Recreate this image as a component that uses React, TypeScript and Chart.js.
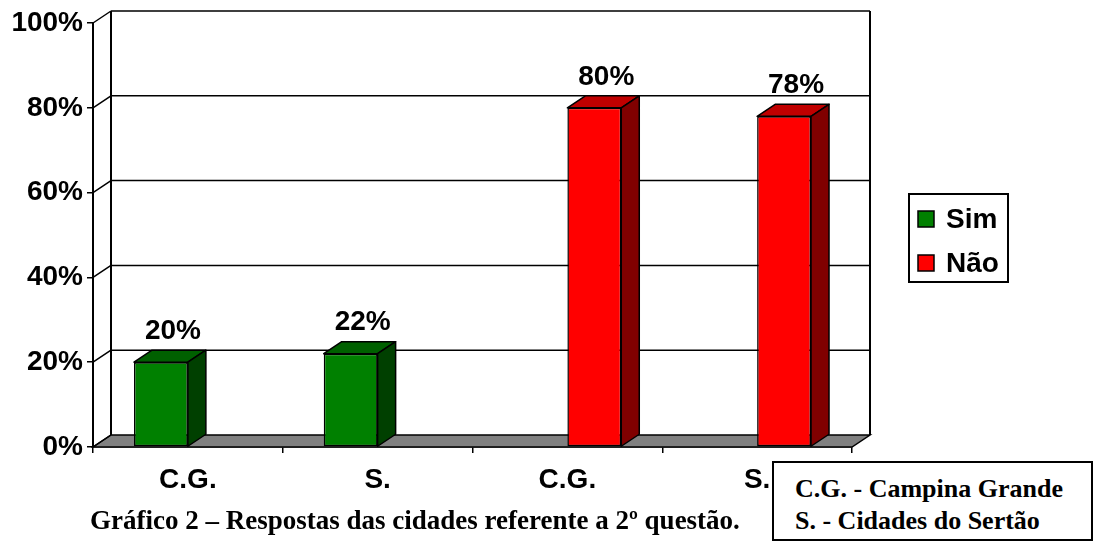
import React, { useEffect, useRef } from "react";
import { Chart, registerables } from "chart.js";

Chart.register(...registerables);

// Categories and answer shares (%)
const categories = ["C.G.", "S.", "C.G.", "S."];
const seriesNames = ["Sim", "Não"];
const simValues: (number | null)[] = [20, 22, null, null];
const naoValues: (number | null)[] = [null, null, 80, 78];
const yTickValues = [0, 20, 40, 60, 80, 100];

// Styling of the pseudo-3D look
const DEPTH_X = 18;
const DEPTH_Y = -12;
const SANS = "'Liberation Sans', Arial, Helvetica, sans-serif";
const SERIF = "'Liberation Serif', 'Times New Roman', Times, serif";
const frontColors = ["#008000", "#FF0000"];
const topColors = ["#006000", "#C00000"];
const sideColors = ["#004000", "#800000"];

// Back wall, floor and the diagonal links from the front axis
const wallPlugin = {
  id: "wall3d",
  beforeDatasetsDraw(chart: any) {
    const { ctx, chartArea } = chart;
    const { left, right, top, bottom } = chartArea;
    const y = chart.scales.y;
    ctx.save();
    ctx.strokeStyle = "#000";
    ctx.lineWidth = 1.5;

    // floor
    ctx.beginPath();
    ctx.moveTo(left, bottom);
    ctx.lineTo(right, bottom);
    ctx.lineTo(right + DEPTH_X, bottom + DEPTH_Y);
    ctx.lineTo(left + DEPTH_X, bottom + DEPTH_Y);
    ctx.closePath();
    ctx.fillStyle = "#808080";
    ctx.fill();
    ctx.stroke();

    // gridlines on the back wall
    yTickValues.forEach((v) => {
      const py = y.getPixelForValue(v);
      ctx.beginPath();
      if (v > 0) {
        ctx.moveTo(left + DEPTH_X, py + DEPTH_Y);
        ctx.lineTo(right + DEPTH_X, py + DEPTH_Y);
      }
      ctx.moveTo(left, py);
      ctx.lineTo(left + DEPTH_X, py + DEPTH_Y);
      ctx.stroke();
    });

    // wall edges
    ctx.lineWidth = 2;
    ctx.beginPath();
    ctx.moveTo(left + DEPTH_X, top + DEPTH_Y);
    ctx.lineTo(left + DEPTH_X, bottom + DEPTH_Y);
    ctx.moveTo(right + DEPTH_X, top + DEPTH_Y);
    ctx.lineTo(right + DEPTH_X, bottom + DEPTH_Y);
    ctx.stroke();
    ctx.restore();
  },
};

// Top and side faces of each column plus the value labels
const barFacesPlugin = {
  id: "barFaces3d",
  afterDatasetsDraw(chart: any) {
    const { ctx } = chart;
    ctx.save();
    ctx.strokeStyle = "#000";
    ctx.lineWidth = 1.5;
    ctx.lineJoin = "round";
    chart.data.datasets.forEach((ds: any, i: number) => {
      const meta = chart.getDatasetMeta(i);
      meta.data.forEach((bar: any, j: number) => {
        const v = ds.data[j];
        if (v == null) return;
        const { x, y, base, width } = bar.getProps(["x", "y", "base", "width"], true);
        const l = x - width / 2;
        const r = x + width / 2;

        ctx.beginPath();
        ctx.moveTo(l, y);
        ctx.lineTo(r, y);
        ctx.lineTo(r + DEPTH_X, y + DEPTH_Y);
        ctx.lineTo(l + DEPTH_X, y + DEPTH_Y);
        ctx.closePath();
        ctx.fillStyle = topColors[i];
        ctx.fill();
        ctx.stroke();

        ctx.beginPath();
        ctx.moveTo(r, y);
        ctx.lineTo(r + DEPTH_X, y + DEPTH_Y);
        ctx.lineTo(r + DEPTH_X, base + DEPTH_Y);
        ctx.lineTo(r, base);
        ctx.closePath();
        ctx.fillStyle = sideColors[i];
        ctx.fill();
        ctx.stroke();

        ctx.fillStyle = "#000";
        ctx.font = `bold 28px ${SANS}`;
        ctx.textAlign = "center";
        ctx.textBaseline = "middle";
        ctx.fillText(`${v}%`, x + 12, y + DEPTH_Y - 19);
      });
    });
    ctx.restore();
  },
};

// Boxed legend at the right of the plot
const boxLegendPlugin = {
  id: "boxLegend",
  afterDraw(chart: any) {
    const { ctx } = chart;
    const bx = 909;
    const by = 194;
    const bw = 99;
    const bh = 88;
    ctx.save();
    ctx.fillStyle = "#fff";
    ctx.fillRect(bx, by, bw, bh);
    ctx.strokeStyle = "#000";
    ctx.lineWidth = 2;
    ctx.strokeRect(bx, by, bw, bh);
    seriesNames.forEach((name, i) => {
      const cy = by + 25 + i * 44;
      ctx.fillStyle = frontColors[i];
      ctx.fillRect(bx + 9, cy - 8, 16, 16);
      ctx.lineWidth = 1.5;
      ctx.strokeRect(bx + 9, cy - 8, 16, 16);
      ctx.fillStyle = "#000";
      ctx.font = `bold 28px ${SANS}`;
      ctx.textAlign = "left";
      ctx.textBaseline = "middle";
      ctx.fillText(name, bx + 37, cy + 1);
    });
    ctx.restore();
  },
};

export default function App() {
  const canvasRef = useRef<HTMLCanvasElement | null>(null);

  useEffect(() => {
    document.body.style.margin = "0";
    const canvas = canvasRef.current;
    if (!canvas) return;
    const tickFont = { family: SANS, size: 28, weight: "bold" as const };
    const chart = new Chart(canvas, {
      type: "bar",
      data: {
        labels: categories,
        datasets: [
          {
            label: seriesNames[0],
            data: simValues,
            backgroundColor: frontColors[0],
            borderColor: "#000",
            borderWidth: 1.5,
            borderSkipped: false,
            categoryPercentage: 0.568,
            barPercentage: 1,
          },
          {
            label: seriesNames[1],
            data: naoValues,
            backgroundColor: frontColors[1],
            borderColor: "#000",
            borderWidth: 1.5,
            borderSkipped: false,
            categoryPercentage: 0.568,
            barPercentage: 1,
          },
        ],
      },
      options: {
        animation: false,
        responsive: true,
        maintainAspectRatio: false,
        layout: { padding: { top: 23, right: 243, left: 0, bottom: 0 } },
        plugins: {
          legend: { display: false },
          tooltip: { enabled: false },
        },
        scales: {
          x: {
            grid: {
              display: true,
              drawOnChartArea: false,
              drawTicks: true,
              tickLength: 6,
              offset: true,
              color: "#000",
              lineWidth: 1.5,
            },
            border: { display: true, color: "#000", width: 1.5 },
            ticks: { font: tickFont, color: "#000", padding: 10, maxRotation: 0 },
            afterFit: (s: any) => {
              s.height = 104;
            },
          },
          y: {
            min: 0,
            max: 100,
            grid: {
              display: true,
              drawOnChartArea: false,
              drawTicks: true,
              tickLength: 6,
              color: "#000",
              lineWidth: 1.5,
            },
            border: { display: true, color: "#000", width: 2 },
            ticks: {
              stepSize: 20,
              font: tickFont,
              color: "#000",
              padding: 4,
              callback: (v: any) => `${v}%`,
            },
            afterFit: (s: any) => {
              s.width = 93;
            },
          },
        },
      },
      plugins: [wallPlugin, barFacesPlugin, boxLegendPlugin],
    });
    return () => chart.destroy();
  }, []);

  return (
    <div style={{ position: "relative", width: 1095, height: 551, background: "#fff" }}>
      <canvas ref={canvasRef} style={{ position: "absolute", left: 0, top: 0 }} />
      <div
        style={{
          position: "absolute",
          left: 90,
          top: 504,
          fontFamily: SERIF,
          fontWeight: "bold",
          fontSize: 27,
          lineHeight: "32px",
          whiteSpace: "nowrap",
          color: "#000",
        }}
      >
        Gráfico 2 – Respostas das cidades referente a 2º questão.
      </div>
      <div
        style={{
          position: "absolute",
          left: 772,
          top: 461,
          width: 321,
          height: 80,
          boxSizing: "border-box",
          border: "2px solid #000",
          background: "#fff",
          paddingLeft: 21,
          paddingTop: 10,
          fontFamily: SERIF,
          fontWeight: "bold",
          fontSize: 26,
          lineHeight: "32px",
          whiteSpace: "nowrap",
          color: "#000",
        }}
      >
        <div>C.G. - Campina Grande</div>
        <div>S. - Cidades do Sertão</div>
      </div>
    </div>
  );
}
